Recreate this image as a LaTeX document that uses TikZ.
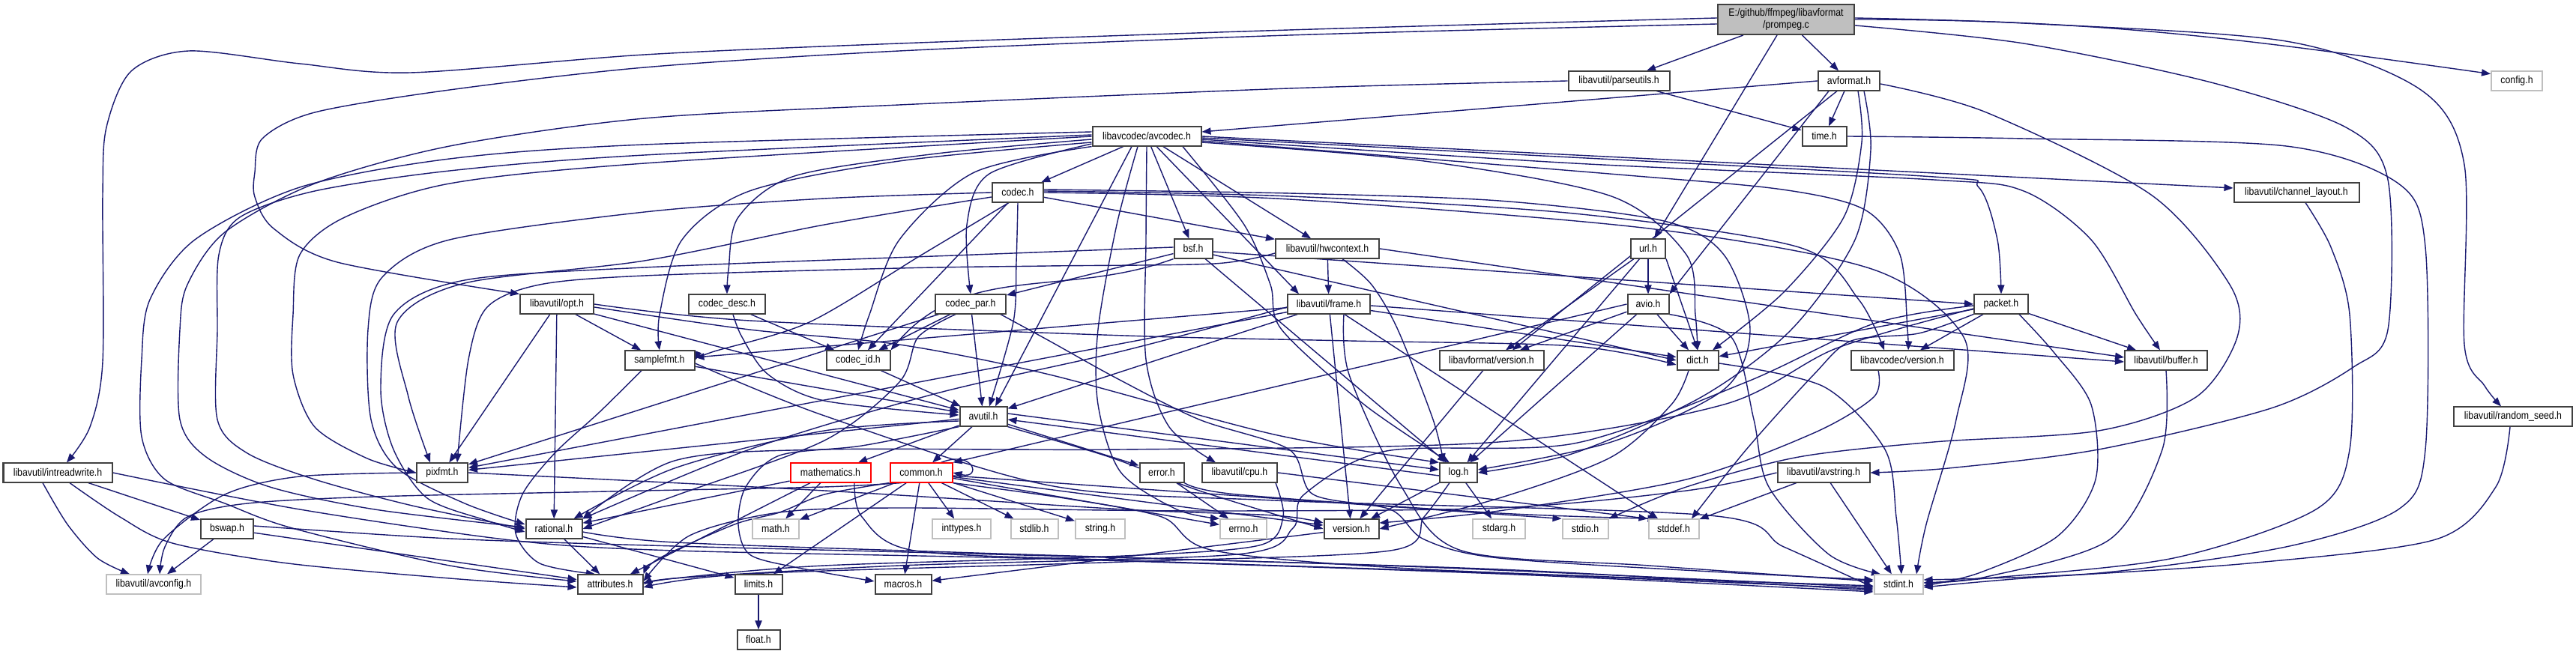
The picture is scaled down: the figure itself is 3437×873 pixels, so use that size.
\documentclass[tikz,border=0pt]{standalone}
\usepackage{fontspec}
\setmainfont{Liberation Sans}[FakeStretch=0.88]
\usetikzlibrary{arrows.meta}
\definecolor{edgec}{HTML}{191970}
\definecolor{boxc}{HTML}{404040}
\definecolor{greyc}{HTML}{BFBFBF}
\definecolor{rootc}{HTML}{BFBFBF}
\pgfdeclarelayer{bg}
\pgfsetlayers{bg,main}
\newcommand\dxfont{\fontsize{3.5pt}{4pt}\selectfont}
\tikzset{
 nb/.style={draw=boxc, line width=0.5pt, fill=white, minimum height=6.3pt, inner sep=0pt, font=\dxfont, text=black},
 ng/.style={nb, draw=greyc},
 nr/.style={nb, draw=red},
 nroot/.style={nb, fill=rootc, minimum height=10pt, align=center},
 dep/.style={draw=edgec, line width=0.35pt, -{Triangle[length=3pt,width=2.3pt]}},
}
\begin{document}
\begin{tikzpicture}[x=0.25pt,y=-0.25pt]
\useasboundingbox (0,0) rectangle (3437,873);
\begin{pgfonlayer}{bg}\fill[white] (0,0) rectangle (3437,873);\end{pgfonlayer}
% ---------------- nodes
\node[nroot, minimum width=45.5pt] (prompeg) at (2383,26) {E:/github/ffmpeg/libavformat\\/prompeg.c};
\node[nb, minimum width=33.75pt] (parseutils) at (2160,108) {libavutil/parseutils.h};
\node[nb, minimum width=20.5pt] (avformat) at (2467,108) {avformat.h};
\node[ng, minimum width=17pt] (config) at (3358,108) {config.h};
\node[nb, minimum width=36.25pt] (avcodec) at (1530,182) {libavcodec/avcodec.h};
\node[nb, minimum width=14.75pt] (time) at (2434,182) {time.h};
\node[nb, minimum width=17pt] (codec) at (1358,257) {codec.h};
\node[nb, minimum width=41.75pt] (chlayout) at (3064,257) {libavutil/channel\_layout.h};
\node[nb, minimum width=11.5pt] (url) at (2199,332) {url.h};
\node[nb, minimum width=12.75pt] (bsf) at (1592,332) {bsf.h};
\node[nb, minimum width=34.5pt] (hwcontext) at (1771,332) {libavutil/hwcontext.h};
\node[nb, minimum width=24.5pt] (opt) at (743,406) {libavutil/opt.h};
\node[nb, minimum width=25.5pt] (codecdesc) at (970,406) {codec\_desc.h};
\node[nb, minimum width=23.5pt] (codecpar) at (1295,406) {codec\_par.h};
\node[nb, minimum width=27.5pt] (frame) at (1773,406) {libavutil/frame.h};
\node[nb, minimum width=13.75pt] (avio) at (2199,406) {avio.h};
\node[nb, minimum width=18pt] (packet) at (2670,406) {packet.h};
\node[nb, minimum width=23.25pt] (samplefmt) at (880,481) {samplefmt.h};
\node[nb, minimum width=21.25pt] (codecid) at (1145,481) {codec\_id.h};
\node[nb, minimum width=34.75pt] (lavfversion) at (1990,481) {libavformat/version.h};
\node[nb, minimum width=13.75pt] (dict) at (2265,481) {dict.h};
\node[nb, minimum width=34.25pt] (lavcversion) at (2538,481) {libavcodec/version.h};
\node[nb, minimum width=27.5pt] (buffer) at (2890,481) {libavutil/buffer.h};
\node[nb, minimum width=15.75pt] (avutil) at (1312,556) {avutil.h};
\node[nb, minimum width=39.5pt] (randomseed) at (3353,556) {libavutil/random\_seed.h};
\node[nb, minimum width=36.25pt] (intreadwrite) at (77,631) {libavutil/intreadwrite.h};
\node[nb, minimum width=17pt] (pixfmt) at (590,631) {pixfmt.h};
\node[nr, minimum width=26.75pt] (mathematics) at (1108,631) {mathematics.h};
\node[nr, minimum width=20.75pt] (common) at (1229,631) {common.h};
\node[nb, minimum width=14.75pt] (error) at (1550,631) {error.h};
\node[nb, minimum width=25pt] (cpu) at (1654,631) {libavutil/cpu.h};
\node[nb, minimum width=12.5pt] (log) at (1946,631) {log.h};
\node[nb, minimum width=30.75pt] (avstring) at (2433,631) {libavutil/avstring.h};
\node[nb, minimum width=17.5pt] (bswap) at (303,706) {bswap.h};
\node[nb, minimum width=18.75pt] (rational) at (739,706) {rational.h};
\node[ng, minimum width=15.5pt] (math) at (1035,706) {math.h};
\node[ng, minimum width=19.5pt] (inttypes) at (1283,706) {inttypes.h};
\node[ng, minimum width=15.75pt] (stdlib) at (1380,706) {stdlib.h};
\node[ng, minimum width=16.5pt] (string) at (1468,706) {string.h};
\node[ng, minimum width=15.5pt] (errno) at (1659,706) {errno.h};
\node[nb, minimum width=18.25pt] (version) at (1803,706) {version.h};
\node[ng, minimum width=17.5pt] (stdarg) at (2000,706) {stdarg.h};
\node[ng, minimum width=15.25pt] (stdio) at (2115,706) {stdio.h};
\node[ng, minimum width=16.75pt] (stddef) at (2233,706) {stddef.h};
\node[ng, minimum width=31.5pt] (avconfig) at (205,780) {libavutil/avconfig.h};
\node[nb, minimum width=21.75pt] (attributes) at (814,780) {attributes.h};
\node[nb, minimum width=15.75pt] (limits) at (1012,780) {limits.h};
\node[nb, minimum width=18.75pt] (macros) at (1205,780) {macros.h};
\node[ng, minimum width=16.25pt] (stdint) at (2533,780) {stdint.h};
\node[nb, minimum width=14.25pt] (float) at (1012,854) {float.h};
% ---------------- edges
\begin{pgfonlayer}{bg}
% prompeg.c
\draw[dep] (prompeg) -- (parseutils);
\draw[dep] (prompeg) -- (avformat);
\draw[dep] ([xshift=-3pt]prompeg.south) -- (url);
\draw[dep] (prompeg.east) to[out=0,in=172] (config.165);
\draw[dep] plot[smooth] coordinates {([yshift=0.5pt]prompeg.east) (2700,31) (3050,55) (3230,120) (3288,220) (3288,460) (3315,515) ([xshift=-4pt]randomseed.north)};
\draw[dep] plot[smooth] coordinates {([yshift=-2pt]prompeg.east) (2700,58) (2950,110) (3130,170) (3186,240) (3186,440) (3140,490) (3030,545) (2800,600) (2600,625) (avstring.east)};
\draw[dep] plot[smooth] coordinates {([yshift=0.5pt]prompeg.west) (1720,40) (1200,58) (860,73) (548,97) (400,85) (252,68) (175,95) (142,170) (137,260) (137,483) (120,570) ([xshift=3pt]intreadwrite.north)};
\draw[dep] plot[smooth] coordinates {([yshift=-1.5pt]prompeg.west) (1720,47) (1200,68) (860,90) (600,120) (420,150) (350,185) (340,230) (340,263) (365,305) (450,350) (opt.north west)};
% parseutils
\draw[dep] (parseutils) -- (time);
\draw[dep] plot[smooth] coordinates {(parseutils.west) (1720,118) (1200,140) (860,158) (600,195) (420,245) (300,310) (250,380) (240,440) (240,560) (275,610) (360,650) (500,680) ([yshift=0.5pt]rational.west)};
% avformat
\draw[dep] (avformat) -- (time);
\draw[dep] (avformat.west) -- ([yshift=1.5pt]avcodec.east);
\draw[dep] ([xshift=-6.75pt]avformat.south) -- (avio.north east);
\draw[dep] ([xshift=-4pt]avformat.south) -- ([xshift=7pt]lavfversion.north);
\draw[dep] plot[smooth] coordinates {([xshift=3pt]avformat.south) (2484,190) (2460,290) (2380,390) ([xshift=5pt]dict.north)};
\draw[dep] plot[smooth] coordinates {([xshift=5pt]avformat.south) (2496,200) (2475,320) (2390,440) (2270,530) (2100,605) (log.east)};
\draw[dep] plot[smooth] coordinates {([yshift=-1pt]avformat.east) (2650,150) (2870,260) (2975,380) (2985,450) (2930,530) (2800,575) (2580,590) (2400,610) (2250,650) (stdio.north east)};
% avcodec.h
\draw[dep] (avcodec) -- (codec);
\draw[dep] (avcodec) -- (bsf);
\draw[dep] (avcodec) -- (hwcontext);
\draw[dep] (avcodec) -- ([xshift=4pt]frame.north west);
\draw[dep] (avcodec.east) -- ([yshift=1.5pt]chlayout.west);
\draw[dep] plot[smooth] coordinates {([yshift=-0.5pt]avcodec.east) (2000,205) (2580,236) (2640,250) (2665,320) (packet.north)};
\draw[dep] plot[smooth] coordinates {([yshift=-1pt]avcodec.east) (2100,218) (2580,240) (2700,255) (2790,320) (2850,420) ([xshift=-2pt]buffer.north)};
\draw[dep] plot[smooth] coordinates {([yshift=-1.5pt]avcodec.east) (2159,233) (2378,253) (2488,280) (2535,340) (2545,440) ([xshift=2pt]lavcversion.north)};
\draw[dep] plot[smooth] coordinates {([yshift=-2pt]avcodec.east) (1900,215) (2150,262) (2250,340) (2262,420) (dict.north)};
\draw[dep] plot[smooth] coordinates {([xshift=12pt]avcodec.south) (1660,300) (1695,380) (1710,440) (1820,540) ([xshift=-3pt]log.north)};
\draw[dep] plot[smooth] coordinates {(avcodec.south) (1529,320) (1529,480) (1560,570) ([xshift=-8pt]cpu.north)};
\draw[dep] plot[smooth] coordinates {([xshift=-3pt]avcodec.south) (1490,300) (1465,440) (1465,540) (1495,630) (1570,680) (errno.north west)};
\draw[dep] plot[smooth] coordinates {([yshift=-1pt]avcodec.west) (1250,205) (1060,235) (985,290) (972,360) (codecdesc.north)};
\draw[dep] plot[smooth] coordinates {([yshift=-2pt]avcodec.west) (1200,215) (1000,255) (910,320) (880,420) (samplefmt.north)};
\draw[dep] plot[smooth] coordinates {([yshift=-2.5pt]avcodec.west) (1320,232) (1290,300) (codecpar.north)};
\draw[dep] plot[smooth] coordinates {(avcodec.south west) (1300,230) (1200,320) (1160,420) (codecid.north)};
\draw[dep] ([xshift=-5pt]avcodec.south) -- ([xshift=4pt]avutil.north);
\draw[dep] plot[smooth] coordinates {([yshift=0.5pt]avcodec.west) (860,207) (600,228) (420,255) (320,290) (292,340) (290,440) (290,560) (330,605) (420,640) (550,675) (rational.west)};
\draw[dep] plot[smooth] coordinates {([yshift=1.5pt]avcodec.west) (860,193) (600,212) (400,250) (260,320) (200,400) (189,480) (189,583) (220,640) (300,672) (390,705) (600,755) ([yshift=1pt]attributes.west)};
\draw[dep] plot[smooth] coordinates {(avcodec.west) (860,218) (600,245) (460,290) (400,340) (391,420) (391,500) (420,570) (490,612) (pixfmt.west)};
% codec.h
\draw[dep] (codec) -- (hwcontext);
\draw[dep] plot[smooth] coordinates {(codec.west) (1100,265) (860,283) (600,320) (510,370) (491,440) (495,560) (530,625) (620,672) ([yshift=1.5pt]rational.west)};
\draw[dep] plot[smooth] coordinates {([yshift=-1.5pt]codec.west) (1100,300) (860,348) (620,378) (530,430) (545,530) ([xshift=-4pt]pixfmt.north)};
\draw[dep] plot[smooth] coordinates {([xshift=-3pt]codec.south) (1230,340) (1080,430) (950,470) (samplefmt.east)};
\draw[dep] (codec) -- (codecid);
\draw[dep] plot[smooth] coordinates {(codec.south) (1356,350) (1352,430) ([xshift=2pt]avutil.north)};
\draw[dep] plot[smooth] coordinates {([yshift=1pt]codec.east) (1720,258) (2000,268) (2220,295) (2300,340) (2335,440) (2300,520) (2150,590) ([yshift=1pt]log.east)};
\draw[dep] plot[smooth] coordinates {([yshift=0.5pt]codec.east) (1720,262) (2100,285) (2400,330) (2480,400) ([xshift=-6pt]lavcversion.north)};
\draw[dep] plot[smooth] coordinates {(codec.east) (1720,266) (2200,305) (2500,360) (2620,450) (2610,560) (2570,700) ([xshift=6pt]stdint.north)};
% bsf.h
\draw[dep] ([yshift=-1pt]bsf.east) -- (packet.west);
\draw[dep] ([yshift=-2pt]bsf.east) -- (dict.west);
\draw[dep] (bsf) -- (log);
\draw[dep] (bsf) -- (codecpar);
\draw[dep] (bsf.south west) to[out=-160,in=50] (codecid.north east);
\draw[dep] plot[smooth] coordinates {([yshift=0.5pt]bsf.west) (1300,340) (860,357) (620,374) (525,420) (508,520) (525,600) (570,665) (650,695) ([yshift=-1pt]rational.west)};
% hwcontext.h
\draw[dep] (hwcontext) -- (frame);
\draw[dep] plot[smooth] coordinates {([xshift=5pt]hwcontext.south) (1830,380) (1865,440) (1912,560) ([xshift=-5pt]log.north)};
\draw[dep] (hwcontext.east) -- ([yshift=1pt]buffer.west);
\draw[dep] plot[smooth] coordinates {([yshift=-1.5pt]hwcontext.west) (1620,352) (1400,355) (1200,358) (860,368) (720,380) (650,410) (625,480) ([xshift=5pt]pixfmt.north)};
% frame.h
\draw[dep] (frame) -- (version);
\draw[dep] ([yshift=-0.5pt]frame.east) -- ([yshift=-0.5pt]buffer.west);
\draw[dep] (frame) -- (dict);
\draw[dep] (frame) -- (stddef);
\draw[dep] plot[smooth] coordinates {([xshift=5pt]frame.south) (1800,500) (1870,650) (1950,735) (2200,755) ([yshift=1pt]stdint.west)};
\draw[dep] (frame) -- (avutil);
\draw[dep] plot[smooth] coordinates {([yshift=-1pt]frame.west) (1500,468) (1250,525) (1000,600) (rational.north east)};
\draw[dep] (frame) -- (samplefmt);
\draw[dep] (frame) -- (pixfmt);
% samplefmt.h
\draw[dep] (samplefmt) -- (avutil);
\draw[dep] plot[smooth] coordinates {([xshift=-6pt]samplefmt.south) (800,550) (740,605) (697,660) (688,712) (720,752) ([xshift=-5pt]attributes.north)};
\draw[dep] plot[smooth] coordinates {([yshift=-1pt]samplefmt.east) (1100,555) (1400,648) (1700,668) (2280,688) (2380,730) ([yshift=-1pt]stdint.west)};
% codec_id, codec_desc, codec_par
\draw[dep] (codecid) -- (avutil);
\draw[dep] plot[smooth] coordinates {([xshift=2pt]codecdesc.south) (990,450) (1025,500) (1100,535) ([yshift=0.5pt]avutil.west)};
\draw[dep] (codecdesc) -- (codecid);
\draw[dep] (codecpar) -- (codecid);
\draw[dep] (codecpar) -- (avutil);
\draw[dep] (codecpar) -- (pixfmt);
\draw[dep] plot[smooth] coordinates {([xshift=-5pt]codecpar.south) (1225,450) (1200,510) (1100,588) (900,662) (rational.east)};
\draw[dep] plot[smooth] coordinates {([xshift=10pt]codecpar.south) (1400,455) (1490,505) (1600,560) (1720,600) (1752,660) (1855,680) (1900,720) (2000,745) (2300,764) ([yshift=1.5pt]stdint.west)};
% versions, dict, buffer, pixfmt
\draw[dep] (lavfversion) -- (version);
\draw[dep] plot[smooth] coordinates {([yshift=-1pt]dict.east) (2433,516) (2515,600) (2530,690) ([xshift=1pt]stdint.north)};
\draw[dep] plot[smooth] coordinates {([xshift=-3pt]dict.south) (2230,540) (2150,610) (2000,665) (version.east)};
\draw[dep] plot[smooth] coordinates {([xshift=-8pt]lavcversion.south) (2500,530) (2420,578) (2250,640) (2000,682) ([yshift=2pt]version.east)};
\draw[dep] plot[smooth] coordinates {(buffer.south) (2885,600) (2815,720) (2650,770) ([yshift=0.5pt]stdint.east)};
\draw[dep] plot[smooth] coordinates {(pixfmt.west) (400,636) (300,660) (218,720) ([xshift=-2pt]avconfig.north)};
\draw[dep] plot[smooth] coordinates {(pixfmt.east) (1100,655) (1500,680) (1700,688) ([yshift=2pt]version.west)};
% avutil.h
\draw[dep] (avutil) -- (common);
\draw[dep] (avutil) -- (mathematics);
\draw[dep] (avutil) -- (error);
\draw[dep] ([yshift=1pt]avutil.east) -- ([yshift=1pt]log.west);
\draw[dep] ([yshift=-1pt]log.west) -- ([yshift=-1pt]avutil.east);
\draw[dep] plot[smooth] coordinates {(avutil.south east) (1480,610) (1600,655) (version.west)};
\draw[dep] (avutil) -- (pixfmt);
\draw[dep] plot[smooth] coordinates {([yshift=-1.5pt]avutil.west) (1100,575) (900,625) ([xshift=-3pt]rational.north east)};
\draw[dep] plot[smooth] coordinates {(avutil.south west) (1150,595) (1040,608) (995,650) (985,700) (1000,740) (1060,757) ([yshift=1pt]macros.west)};
% mathematics.h
\draw[dep] (mathematics) -- (math);
\draw[dep] (mathematics) -- (rational);
\draw[dep] (mathematics) -- (attributes);
\draw[dep] plot[smooth] coordinates {([xshift=8pt]mathematics.south) (1150,690) (1220,735) (1500,748) (2000,765) ([yshift=-1.5pt]stdint.west)};
% common.h
\draw[dep] (common) -- (math);
\draw[dep] (common) -- (inttypes);
\draw[dep] (common) -- (stdlib);
\draw[dep] (common) -- (string);
\draw[dep] (common) -- (errno);
\draw[dep] (common) -- (limits);
\draw[dep] (common) -- (macros);
\draw[dep] plot[smooth] coordinates {(common.south west) (1100,660) (1040,684) (980,700) (880,745) (attributes.north east)};
\draw[dep] (common) -- (version);
\draw[dep] ([yshift=-1pt]common.east) -- (stdio.north west);
\draw[dep] plot[smooth] coordinates {(common.south east) (1420,665) (1550,690) (1620,735) (1900,760) ([yshift=-0.5pt]stdint.west)};
\draw[dep] plot[smooth] coordinates {([xshift=4pt]common.south west) (1100,650) (860,655) (500,663) (330,672) (250,690) (220,730) ([xshift=2pt]avconfig.north)};
\draw[dep] ([xshift=-4pt]common.north east) .. controls (1300,600) and (1310,640) .. (common.east);
% error, cpu, log, avstring
\draw[dep] (error) -- (errno);
\draw[dep] plot[smooth] coordinates {(error.south east) (1650,660) (2000,685) ([xshift=3pt]stddef.north west)};
\draw[dep] (cpu.east) -- (stddef.north west);
\draw[dep] plot[smooth] coordinates {([xshift=12pt]cpu.south) (1712,690) (1680,728) (1500,742) (1100,755) (900,772) (attributes.east)};
\draw[dep] (log) -- (stdarg);
\draw[dep] (log) -- (version);
\draw[dep] plot[smooth] coordinates {([xshift=-3pt]log.south) (1900,690) (1855,735) (1500,750) (1000,766) ([yshift=-1pt]attributes.east)};
\draw[dep] (avstring) -- (stddef);
\draw[dep] (avstring) -- (stdint);
\draw[dep] plot[smooth] coordinates {(avstring.west) (2250,655) (2000,678) (1600,682) (1200,678) (1040,684) (920,715) ([yshift=1pt]attributes.east)};
% bswap, intreadwrite, rational, version, limits
\draw[dep] (bswap) -- (avconfig);
\draw[dep] (bswap) -- (attributes);
\draw[dep] plot[smooth] coordinates {([yshift=1pt]bswap.east) (600,719) (900,729) (1400,742) (2000,760) ([yshift=-2pt]stdint.west)};
\draw[dep] plot[smooth] coordinates {([xshift=-5pt]intreadwrite.south) (90,700) (130,745) ([xshift=-8pt]avconfig.north)};
\draw[dep] (intreadwrite) -- (bswap);
\draw[dep] plot[smooth] coordinates {([xshift=4pt]intreadwrite.south) (160,690) (230,725) (384,752) (600,772) ([yshift=-1pt]attributes.west)};
\draw[dep] plot[smooth] coordinates {(intreadwrite.east) (400,680) (690,722) (900,735) (1400,746) (2000,766) ([yshift=-2.5pt]stdint.west)};
\draw[dep] (rational) -- (attributes);
\draw[dep] (rational) -- (limits);
\draw[dep] plot[smooth] coordinates {([yshift=-1pt]rational.east) (900,724) (1300,738) (1900,757) ([yshift=-1pt]stdint.west)};
\draw[dep] (version) -- (macros);
\draw[dep] (limits) -- (float);
% time, channel_layout, random_seed
\draw[dep] plot[smooth] coordinates {(time.east) (2700,185) (3050,195) (3200,245) (3236,330) (3236,600) (3200,680) (3050,730) (2800,765) ([yshift=1.5pt]stdint.east)};
\draw[dep] plot[smooth] coordinates {([xshift=3pt]chlayout.south) (3110,330) (3135,420) (3135,600) (3090,680) (2900,745) (2650,772) ([yshift=0.5pt]stdint.east)};
\draw[dep] plot[smooth] coordinates {([xshift=-1pt]randomseed.south) (3330,650) (3250,720) (3000,752) (2700,772) ([yshift=-1pt]stdint.east)};
% packet.h
\draw[dep] (packet) -- (buffer);
\draw[dep] (packet) -- (dict);
\draw[dep] (packet) -- (lavcversion);
\draw[dep] plot[smooth] coordinates {(packet.south west) (2560,445) (2470,455) (2420,500) (2330,600) ([xshift=6pt]stddef.north)};
\draw[dep] plot[smooth] coordinates {([xshift=6pt]packet.south) (2740,470) (2790,540) (2796,640) (2745,716) (2640,765) ([yshift=-0.5pt]stdint.east)};
\draw[dep] plot[smooth] coordinates {([yshift=-0.5pt]packet.west) (2500,432) (2330,510) (2100,592) (1850,602) (1740,660) (1725,705) (1650,740) (1200,755) (900,772) ([yshift=-0.5pt]attributes.east)};
\draw[dep] plot[smooth] coordinates {([yshift=-1.5pt]packet.west) (2450,465) (2300,540) (2000,590) (1500,600) (1100,600) (900,615) (rational.north east)};
% opt.h
\draw[dep] (opt) -- (pixfmt);
\draw[dep] (opt) -- (samplefmt);
\draw[dep] (opt) -- (rational);
\draw[dep] (opt) -- (avutil);
\draw[dep] plot[smooth] coordinates {(opt.east) (1000,428) (1500,448) (1800,455) (2100,462) ([yshift=-1.5pt]dict.west)};
\draw[dep] plot[smooth] coordinates {([yshift=-1pt]opt.east) (1000,440) (1200,460) (1400,500) (1700,580) (log.north west)};
% url.h
\draw[dep] (url) -- (avio);
\draw[dep] (url) -- (lavfversion);
\draw[dep] (url.south east) -- (dict.north);
\draw[dep] (url) -- (log);
% avio.h
\draw[dep] (avio) -- (dict);
\draw[dep] (avio) -- (lavfversion);
\draw[dep] (avio) -- (log);
\draw[dep] (avio.west) -- (common.north east);
\draw[dep] plot[smooth] coordinates {(avio.south east) (2310,450) (2340,560) (2360,650) (2440,740) ([xshift=-6pt]stdint.north)};
\end{pgfonlayer}
\end{tikzpicture}
\end{document}
